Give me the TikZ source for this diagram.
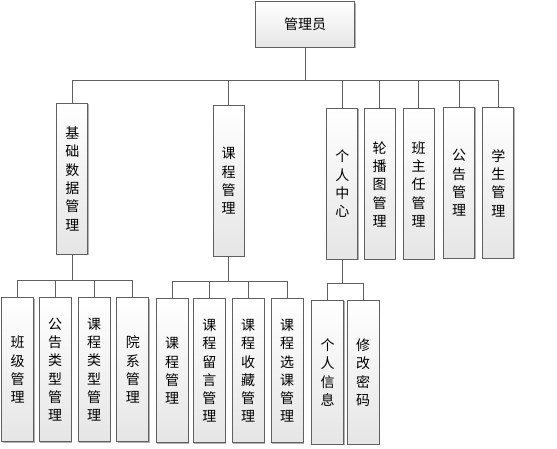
\documentclass[tikz,border=0pt]{standalone}
\usepackage{fontspec}
\newfontfamily\cjk{Noto Sans CJK SC}
\usetikzlibrary{shadows}
\tikzset{
  box/.style={draw=gray!75!black, line width=0.7pt, top color=white, bottom color=gray!20,
    drop shadow={shadow xshift=0.8pt, shadow yshift=-0.8pt, fill=gray!60, opacity=1},
    inner sep=0pt, align=center, font=\cjk\fontsize{14}{18.3}\selectfont},
  top/.style={box, minimum width=99pt, minimum height=45.5pt},
  mid/.style={box, minimum width=31pt, minimum height=151pt},
  low/.style={box, minimum width=32pt, minimum height=144pt},
  link/.style={draw=gray!75!black, line width=0.8pt}
}
\begin{document}
\begin{tikzpicture}[x=1pt,y=-1pt]
  \useasboundingbox (0,0) rectangle (557,449);
  \node[top] (root) at (305.2,24.5) {管理员};
  % second row
  \node[mid] (jcsj) at (72.3,178.7) {基\\础\\数\\据\\管\\理};
  \node[mid] (kcgl) at (228.5,181) {课\\程\\管\\理};
  \node[mid] (grzx) at (342.3,183.7) {个\\人\\中\\心};
  \node[mid] (lbt) at (379.5,184.2) {轮\\播\\图\\管\\理};
  \node[mid] (bzr) at (418.7,184.2) {班\\主\\任\\管\\理};
  \node[mid] (gggl) at (459.2,183) {公\\告\\管\\理};
  \node[mid] (xsgl) at (498.3,183) {学\\生\\管\\理};
  % third row
  \node[low] (bjgl) at (17.7,369.7) {班\\级\\管\\理};
  \node[low] (gglx) at (55,369.7) {公\\告\\类\\型\\管\\理};
  \node[low] (kclx) at (94,369.7) {课\\程\\类\\型\\管\\理};
  \node[low] (yxgl) at (132.8,369.7) {院\\系\\管\\理};
  \node[low] (kcgl2) at (172,370.8) {课\\程\\管\\理};
  \node[low] (kcly) at (209.3,370.8) {课\\程\\留\\言\\管\\理};
  \node[low] (kcsc) at (248,370.8) {课\\程\\收\\藏\\管\\理};
  \node[low] (kcxk) at (287,370.8) {课\\程\\选\\课\\管\\理};
  \node[low] (grxx) at (327.7,372.5) {个\\人\\信\\息};
  \node[low] (xgmm) at (363.2,372.5) {修\\改\\密\\码};
  \coordinate (bus) at (305.2,80);
  \coordinate (jbus) at (72.3,280.7);
  \coordinate (kbus) at (228.5,281.3);
  \coordinate (gbus) at (342.3,283.3);
  \begin{scope}[link]
    \draw (root) -- (bus);
    \draw (bus) -| (jcsj);
    \draw (bus) -| (kcgl);
    \draw (bus) -| (grzx);
    \draw (bus) -| (lbt);
    \draw (bus) -| (bzr);
    \draw (bus) -| (gggl);
    \draw (bus) -| (xsgl);
    \draw (jcsj) -- (jbus);
    \draw (jbus) -| (bjgl);
    \draw (jbus) -| (gglx);
    \draw (jbus) -| (kclx);
    \draw (jbus) -| (yxgl);
    \draw (kcgl) -- (kbus);
    \draw (kbus) -| (kcgl2);
    \draw (kbus) -| (kcly);
    \draw (kbus) -| (kcsc);
    \draw (kbus) -| (kcxk);
    \draw (grzx) -- (gbus);
    \draw (gbus) -| (grxx);
    \draw (gbus) -| (xgmm);
  \end{scope}
\end{tikzpicture}
\end{document}
